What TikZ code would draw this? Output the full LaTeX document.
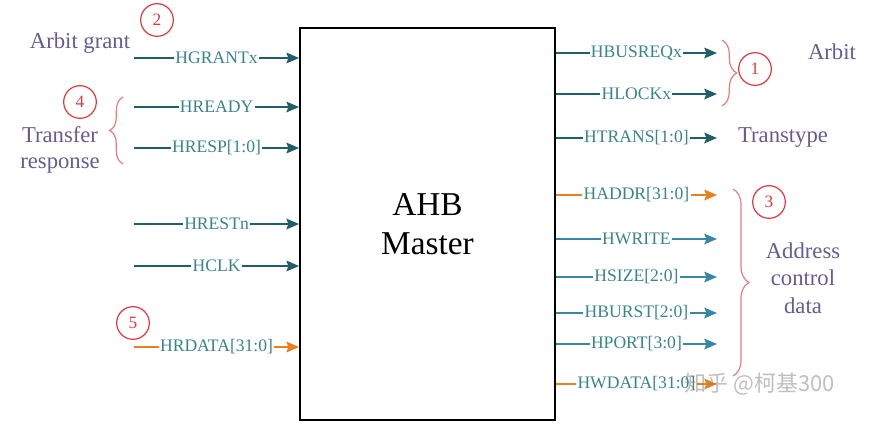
\documentclass[tikz,border=0pt]{standalone}
\usepackage{fontspec}
\setmainfont{Liberation Serif}
\newfontfamily\cjkfont{Noto Sans CJK SC}
\usetikzlibrary{arrows.meta,positioning,decorations.pathreplacing}
\definecolor{sigdark}{RGB}{30,96,102}
\definecolor{siglight}{RGB}{56,136,165}
\definecolor{sigtext}{RGB}{58,132,142}
\definecolor{sigorange}{RGB}{232,128,30}
\definecolor{markred}{RGB}{222,58,62}
\definecolor{bracepink}{RGB}{230,125,125}
\definecolor{notepurple}{RGB}{104,90,146}
\tikzset{
    %Define standard arrow tip
    >={Stealth[length=9.5pt,width=8pt,inset=1.5pt]},
    %Define style for the master box
    masterbox/.style={
           rectangle,
           draw=black, line width=1.6pt,
           minimum width=191pt,
           minimum height=294pt,
           align=center,
           font=\fontsize{25}{29}\selectfont},
    %Define style for signal lines
    sig/.style={
           ->,
           line width=1.3pt},
    lbl/.style={
           fill=white,
           inner sep=1pt,
           text=sigtext,
           font=\fontsize{13.2}{15}\selectfont},
    %Define style for numbered marks
    mark num/.style={
           circle,
           draw=markred, line width=0.9pt,
           minimum size=24.5pt,
           inner sep=0pt,
           text=markred,
           font=\fontsize{13}{15}\selectfont},
    note/.style={
           text=notepurple,
           align=center,
           font=\fontsize{17}{19.5}\selectfont},
    curly/.style={
           draw=bracepink, line width=0.9pt,
           decorate}
}

\begin{document}
\begin{tikzpicture}[x=0.75pt,y=-0.75pt]
\useasboundingbox (0,0) rectangle (886,433);

 %box
\node[masterbox](master) at (427.5,224){AHB\\Master};

 %inputs
\coordinate (grant) at (134,58);
\coordinate (ready) at (134,107);
\coordinate (resp) at (134,148);
\coordinate (rstn) at (134,224);
\coordinate (clk) at (134,266);
\coordinate (rdata) at (134,347);

\draw[sig, sigdark] (grant) -- node[lbl]{HGRANTx} (master.west|-grant);
\draw[sig, sigdark] (ready) -- node[lbl]{HREADY} (master.west|-ready);
\draw[sig, sigdark] (resp) -- node[lbl]{HRESP[1:0]} (master.west|-resp);
\draw[sig, sigdark] (rstn) -- node[lbl]{HRESTn} (master.west|-rstn);
\draw[sig, sigdark] (clk) -- node[lbl]{HCLK} (master.west|-clk);
\draw[sig, sigorange] (rdata) -- node[lbl]{HRDATA[31:0]} (master.west|-rdata);

 %outputs
\coordinate (busreq) at (717,53);
\coordinate (lock) at (717,94);
\coordinate (trans) at (717,138);
\coordinate (addr) at (717,195);
\coordinate (write) at (717,239);
\coordinate (size) at (717,277);
\coordinate (burst) at (717,313);
\coordinate (prot) at (717,344);
\coordinate (wdata) at (717,384);

\draw[sig, sigdark] (master.east|-busreq) -- node[lbl]{HBUSREQx} (busreq);
\draw[sig, sigdark] (master.east|-lock) -- node[lbl]{HLOCKx} (lock);
\draw[sig, sigdark] (master.east|-trans) -- node[lbl]{HTRANS[1:0]} (trans);
\draw[sig, sigorange] (master.east|-addr) -- node[lbl]{HADDR[31:0]} (addr);
\draw[sig, siglight] (master.east|-write) -- node[lbl]{HWRITE} (write);
\draw[sig, siglight] (master.east|-size) -- node[lbl]{HSIZE[2:0]} (size);
\draw[sig, siglight] (master.east|-burst) -- node[lbl]{HBURST[2:0]} (burst);
\draw[sig, siglight] (master.east|-prot) -- node[lbl]{HPORT[3:0]} (prot);
\draw[sig, sigorange] (master.east|-wdata) -- node[lbl]{HWDATA[31:0]} (wdata);

 %braces
\draw[curly, decoration={brace,amplitude=10pt}] (123,164) -- (123,97);
\draw[curly, decoration={brace,amplitude=11pt}] (722,40) -- (722,106);
\draw[curly, decoration={brace,amplitude=12pt}] (733,189) -- (733,376);

 %marks
\node[mark num](m2) at (157,20){2};
\node[mark num](m4) at (80,102){4};
\node[mark num](m5) at (133,323){5};
\node[mark num](m1) at (755,69){1};
\node[mark num](m3) at (769,202){3};

 %notes
\node[note](ngrant) at (80,43){Arbit grant};
\node[note](nresp) at (60,150){Transfer\\response};
\node[note](narbit) at (832,52){Arbit};
\node[note](ntype) at (783,138){Transtype};
\node[note, font=\fontsize{17}{20.5}\selectfont](naddr) at (803,278){Address\\control\\data};

 %watermark
\node[text=gray, opacity=0.5, font=\cjkfont\fontsize{16.5}{18}\selectfont](wm) at (760,384){知乎 @柯基300};
\end{tikzpicture}
\end{document}
